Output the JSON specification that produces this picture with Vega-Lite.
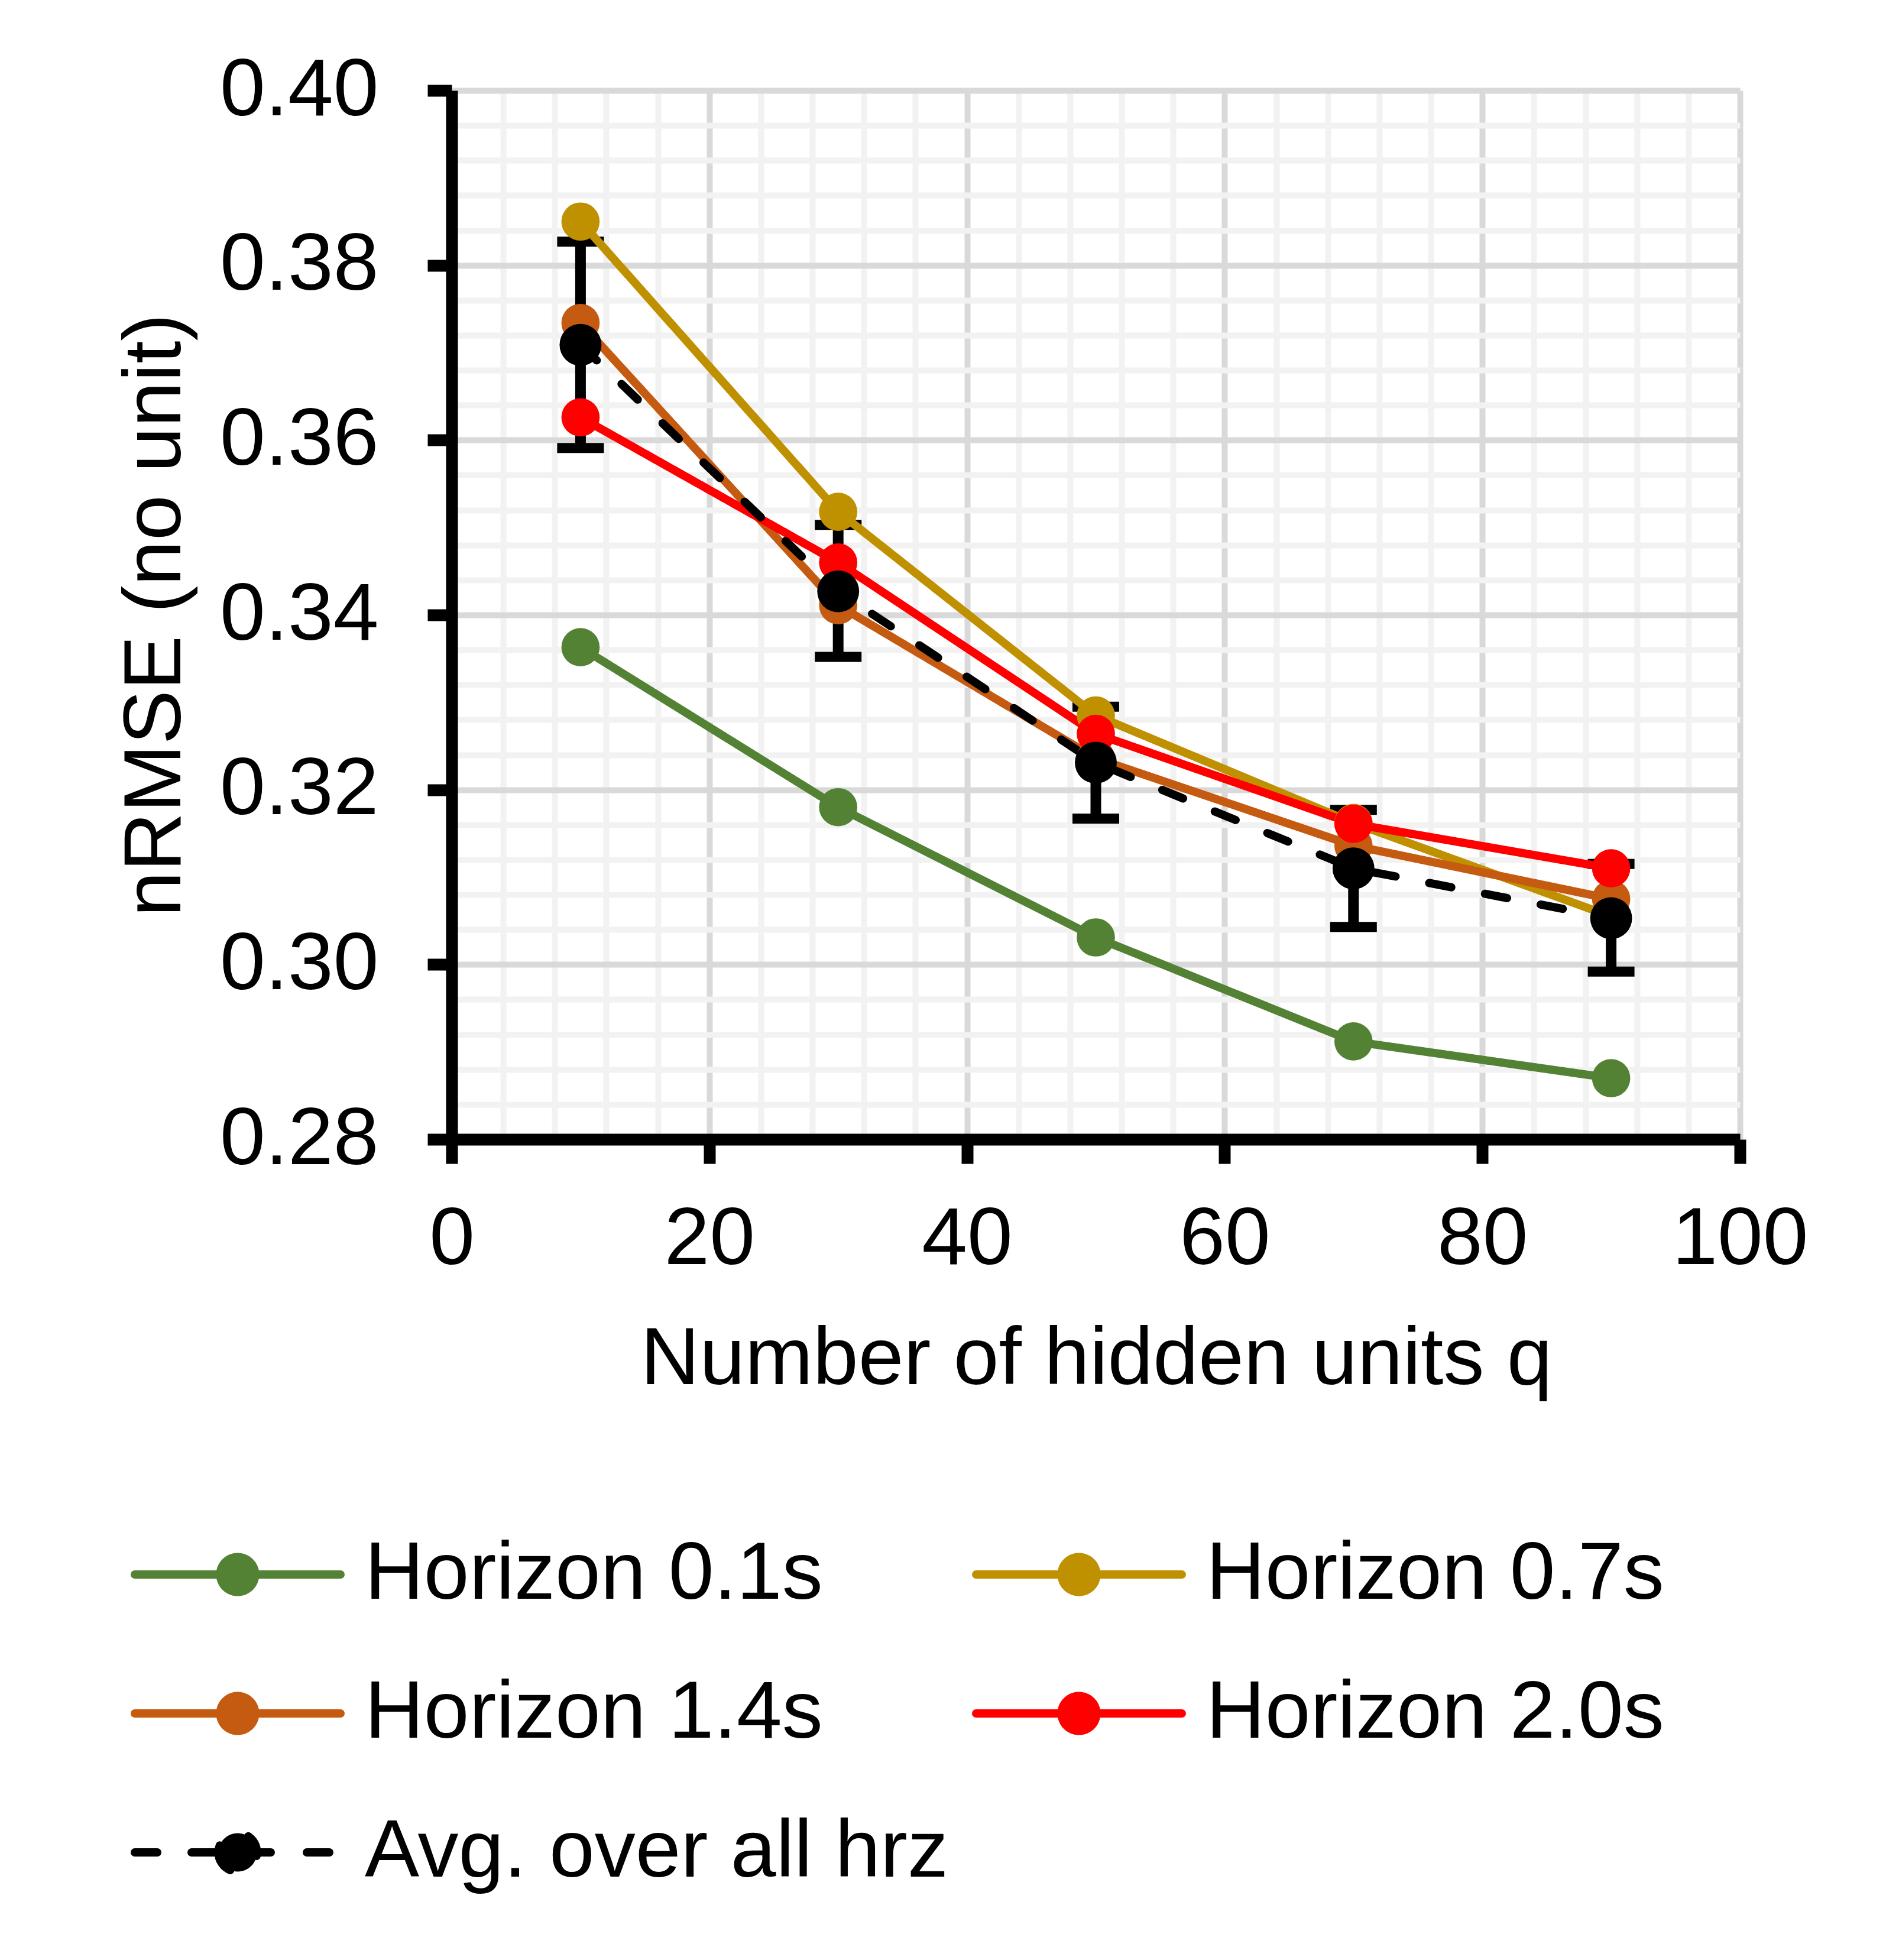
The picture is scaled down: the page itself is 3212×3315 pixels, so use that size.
{
  "$schema": "https://vega.github.io/schema/vega-lite/v6.json",
  "width": 2179,
  "height": 1774,
  "autosize": {"type": "none"},
  "padding": {"left": 764, "top": 153, "right": 269, "bottom": 1388},
  "background": "white",
  "config": {"view": {"stroke": null}, "font": "Liberation Sans"},
  "data": {
    "values": [
      {"series": "Horizon 0.1s", "q": 10, "v": 0.3363},
      {"series": "Horizon 0.1s", "q": 30, "v": 0.3180},
      {"series": "Horizon 0.1s", "q": 50, "v": 0.3031},
      {"series": "Horizon 0.1s", "q": 70, "v": 0.2912},
      {"series": "Horizon 0.1s", "q": 90, "v": 0.2870},
      {"series": "Horizon 0.7s", "q": 10, "v": 0.3850},
      {"series": "Horizon 0.7s", "q": 30, "v": 0.3518},
      {"series": "Horizon 0.7s", "q": 50, "v": 0.3285},
      {"series": "Horizon 0.7s", "q": 70, "v": 0.3162},
      {"series": "Horizon 0.7s", "q": 90, "v": 0.3055},
      {"series": "Horizon 1.4s", "q": 10, "v": 0.3734},
      {"series": "Horizon 1.4s", "q": 30, "v": 0.3411},
      {"series": "Horizon 1.4s", "q": 50, "v": 0.3236},
      {"series": "Horizon 1.4s", "q": 70, "v": 0.3136},
      {"series": "Horizon 1.4s", "q": 90, "v": 0.3075},
      {"series": "Horizon 2.0s", "q": 10, "v": 0.3626},
      {"series": "Horizon 2.0s", "q": 30, "v": 0.3460},
      {"series": "Horizon 2.0s", "q": 50, "v": 0.3264},
      {"series": "Horizon 2.0s", "q": 70, "v": 0.3161},
      {"series": "Horizon 2.0s", "q": 90, "v": 0.3110},
      {"series": "Avg. over all hrz", "q": 10, "v": 0.3709, "lo": 0.3591, "hi": 0.3827},
      {"series": "Avg. over all hrz", "q": 30, "v": 0.3427, "lo": 0.3352, "hi": 0.3503},
      {"series": "Avg. over all hrz", "q": 50, "v": 0.3231, "lo": 0.3167, "hi": 0.3295},
      {"series": "Avg. over all hrz", "q": 70, "v": 0.3110, "lo": 0.3043, "hi": 0.3177},
      {"series": "Avg. over all hrz", "q": 90, "v": 0.3053, "lo": 0.2992, "hi": 0.3115}
    ]
  },
  "resolve": {"axis": {"x": "independent", "y": "independent"}},
  "layer": [
    {
      "mark": {"type": "point", "opacity": 0},
      "encoding": {
        "x": {
          "field": "q", "type": "quantitative",
          "scale": {"domain": [0, 100], "nice": false, "zero": false},
          "axis": {
            "orient": "bottom",
            "values": [4, 8, 12, 16, 24, 28, 32, 36, 44, 48, 52, 56, 64, 68, 72, 76, 84, 88, 92, 96],
            "grid": true, "gridColor": "#f2f2f2", "gridWidth": 10, "gridOpacity": 1,
            "labels": false, "ticks": false, "domain": false, "title": null
          }
        },
        "y": {
          "field": "v", "type": "quantitative",
          "scale": {"domain": [0.28, 0.40], "nice": false, "zero": false},
          "axis": {
            "orient": "left",
            "values": [0.284, 0.288, 0.292, 0.296, 0.304, 0.308, 0.312, 0.316, 0.324, 0.328, 0.332, 0.336, 0.344, 0.348, 0.352, 0.356, 0.364, 0.368, 0.372, 0.376, 0.384, 0.388, 0.392, 0.396],
            "grid": true, "gridColor": "#f2f2f2", "gridWidth": 10, "gridOpacity": 1,
            "labels": false, "ticks": false, "domain": false, "title": null
          }
        }
      }
    },
    {
      "transform": [{"filter": "datum.lo != null"}],
      "mark": {
        "type": "errorbar",
        "ticks": {"size": 79, "thickness": 17, "color": "black", "opacity": 1},
        "rule": {"strokeWidth": 18, "color": "black", "opacity": 1}
      },
      "encoding": {
        "x": {"field": "q", "type": "quantitative", "axis": null},
        "y": {"field": "lo", "type": "quantitative", "axis": null},
        "y2": {"field": "hi"}
      }
    },
    {
      "mark": {"type": "line", "strokeWidth": 14, "strokeCap": "round", "strokeJoin": "round"},
      "encoding": {
        "x": {"field": "q", "type": "quantitative", "axis": null},
        "y": {"field": "v", "type": "quantitative", "axis": null},
        "color": {
          "field": "series", "type": "nominal",
          "scale": {
            "domain": ["Horizon 0.1s", "Horizon 0.7s", "Horizon 1.4s", "Horizon 2.0s", "Avg. over all hrz"],
            "range": ["#548235", "#BF9000", "#C55A11", "#FF0000", "#000000"]
          }
        },
        "strokeDash": {
          "field": "series", "type": "nominal", "legend": null,
          "scale": {
            "domain": ["Horizon 0.1s", "Horizon 0.7s", "Horizon 1.4s", "Horizon 2.0s", "Avg. over all hrz"],
            "range": [[1, 0], [1, 0], [1, 0], [1, 0], [38, 58]]
          }
        }
      }
    },
    {
      "mark": {"type": "point", "filled": true, "opacity": 1, "strokeWidth": 0, "shape": "circle"},
      "encoding": {
        "x": {
          "field": "q", "type": "quantitative",
          "axis": {
            "orient": "bottom",
            "values": [0, 20, 40, 60, 80, 100],
            "format": "d",
            "grid": true, "gridColor": "#d9d9d9", "gridWidth": 10, "gridOpacity": 1,
            "domain": true, "domainColor": "black", "domainWidth": 20,
            "ticks": true, "tickColor": "black", "tickWidth": 20, "tickSize": 41,
            "labelFont": "Liberation Sans", "labelFontSize": 138, "labelColor": "black", "labelPadding": 60,
            "labelLimit": 0, "labelFlush": false, "labelOverlap": false, "labelBound": false,
            "title": "Number of hidden units q",
            "titleFont": "Liberation Sans", "titleFontSize": 138, "titleFontWeight": "normal", "titleColor": "black",
            "titleX": 1090, "titleY": 304, "titleBaseline": "top", "titleAlign": "center", "titleAnchor": "middle"
          }
        },
        "y": {
          "field": "v", "type": "quantitative",
          "axis": {
            "orient": "left",
            "values": [0.28, 0.30, 0.32, 0.34, 0.36, 0.38, 0.40],
            "format": ".2f",
            "grid": true, "gridColor": "#d9d9d9", "gridWidth": 10, "gridOpacity": 1,
            "domain": true, "domainColor": "black", "domainWidth": 20,
            "ticks": true, "tickColor": "black", "tickWidth": 20, "tickSize": 41,
            "labelFont": "Liberation Sans", "labelFontSize": 138, "labelColor": "black", "labelPadding": 83,
            "labelLimit": 0, "labelFlush": false, "labelOverlap": false, "labelBound": false,
            "title": "nRMSE (no unit)",
            "titleFont": "Liberation Sans", "titleFontSize": 138, "titleFontWeight": "normal", "titleColor": "black",
            "titleX": -431, "titleY": 887, "titleAngle": -90, "titleBaseline": "bottom", "titleAlign": "center", "titleAnchor": "middle"
          }
        },
        "color": {
          "field": "series", "type": "nominal",
          "scale": {
            "domain": ["Horizon 0.1s", "Horizon 0.7s", "Horizon 1.4s", "Horizon 2.0s", "Avg. over all hrz"],
            "range": ["#548235", "#BF9000", "#C55A11", "#FF0000", "#000000"]
          },
          "legend": {
            "title": null,
            "orient": "none",
            "direction": "horizontal",
            "legendX": -431,
            "legendY": 2441,
            "columns": 2,
            "columnPadding": 19,
            "rowPadding": 97,
            "padding": 0,
            "labelFont": "Liberation Sans",
            "labelFontSize": 138,
            "labelColor": "black",
            "labelOffset": 146,
            "labelLimit": 0,
            "symbolSize": 6400,
            "symbolStrokeWidth": 14,
            "symbolOpacity": 1,
            "symbolOffset": 0,
            "symbolType": "M-4.35,0H4.35M-0.7375,0A0.7375,0.7375 0 1,0 0.7375,0A0.7375,0.7375 0 1,0 -0.7375,0Z",
            "encode": {
              "symbols": {
                "update": {
                  "shape": {"signal": "datum.value === 'Avg. over all hrz' ? 'M-4.35,0H-3.35M-1.95,0H1.5M2.925,0H3.95M-0.8125,0A0.8125,0.8125 0 1,0 0.8125,0A0.8125,0.8125 0 1,0 -0.8125,0Z' : 'M-4.35,0H4.35M-0.7375,0A0.7375,0.7375 0 1,0 0.7375,0A0.7375,0.7375 0 1,0 -0.7375,0Z'"},
                  "fill": {"scale": "color", "field": "value"},
                  "stroke": {"scale": "color", "field": "value"},
                  "strokeWidth": {"value": 14},
                  "strokeCap": {"value": "round"},
                  "strokeDash": {"value": [1, 0]},
                  "size": {"value": 6400},
                  "opacity": {"value": 1}
                }
              }
            }
          }
        },
        "size": {
          "condition": {"test": "datum.series === 'Avg. over all hrz'", "value": 5027},
          "value": 4185
        }
      }
    }
  ]
}
